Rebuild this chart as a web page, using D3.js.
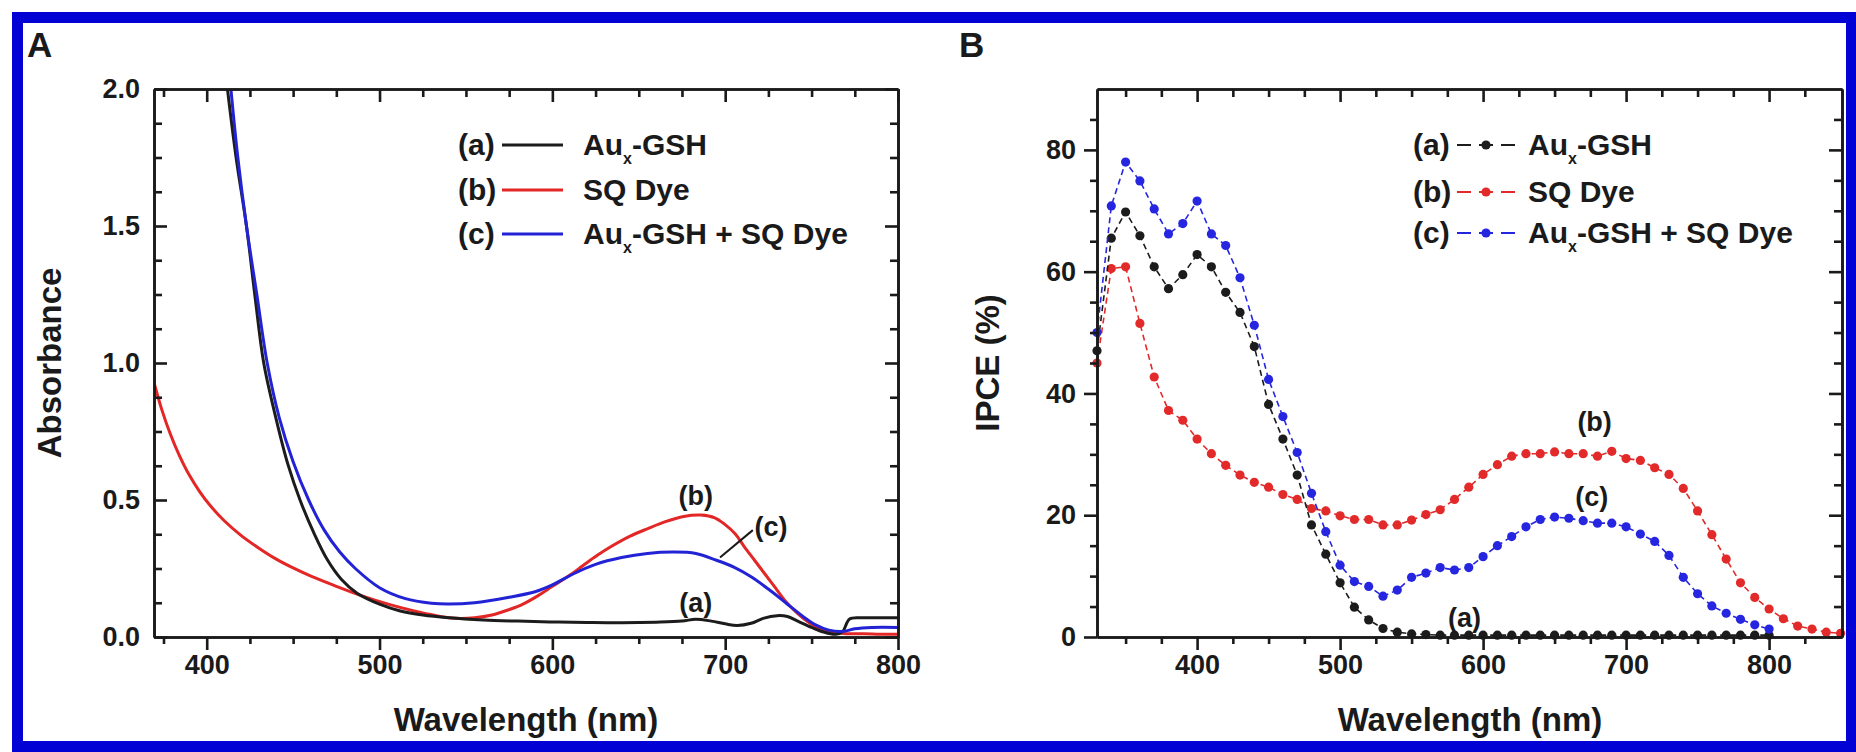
<!DOCTYPE html>
<html>
<head>
<meta charset="utf-8">
<script src="https://cdn.jsdelivr.net/npm/d3@7"></script>
<style>
  body { margin: 0; background: #fff; }
  svg text { font-family: "Liberation Sans", Arial, sans-serif; font-weight: bold; fill: #1a1a1a; }
</style>
</head>
<body>
<svg id="chart" width="1856" height="752"></svg>
<script>
// ---- panel A : absorbance spectra ----
var wlA_a = [412, 417, 423, 428, 433, 440, 447, 454, 462, 470, 478, 487, 500, 512, 525, 540, 560, 580, 600, 620, 640, 660, 675, 683, 692, 700, 707, 715, 722, 730, 736, 742, 750, 757, 764, 768, 772, 780, 790, 800]
var absA_a = [2.0, 1.75, 1.5, 1.24, 1.0, 0.80, 0.63, 0.50, 0.38, 0.28, 0.21, 0.16, 0.12, 0.095, 0.08, 0.07, 0.062, 0.058, 0.055, 0.053, 0.052, 0.054, 0.058, 0.065, 0.058, 0.048, 0.042, 0.05, 0.068, 0.078, 0.075, 0.058, 0.035, 0.018, 0.01, 0.02, 0.066, 0.07, 0.07, 0.07]

var wlA_b = [369, 374, 379, 384, 390, 396, 402, 410, 420, 430, 440, 450, 461, 475, 489, 506, 520, 531, 544, 555, 565, 575, 583, 592, 600, 610, 618, 626, 634, 645, 655, 665, 676, 686, 694, 700, 706, 711, 717, 723, 729, 735, 742, 749, 755, 762, 770, 780, 790, 800]
var absA_b = [0.94, 0.83, 0.74, 0.665, 0.59, 0.53, 0.48, 0.425, 0.37, 0.325, 0.285, 0.252, 0.22, 0.185, 0.152, 0.118, 0.095, 0.08, 0.068, 0.07, 0.08, 0.10, 0.12, 0.152, 0.185, 0.225, 0.262, 0.298, 0.33, 0.368, 0.395, 0.42, 0.44, 0.445, 0.435, 0.41, 0.375, 0.33, 0.28, 0.23, 0.18, 0.13, 0.085, 0.05, 0.03, 0.018, 0.012, 0.012, 0.01, 0.01]

var wlA_c = [414, 418, 423, 429, 435, 442, 450, 459, 468, 477, 486, 500, 515, 530, 540, 555, 575, 590, 600, 612, 625, 640, 655, 670, 683, 695, 705, 715, 725, 735, 745, 752, 760, 768, 775, 785, 800]
var absA_c = [2.0, 1.75, 1.5, 1.25, 1.0, 0.80, 0.64, 0.50, 0.39, 0.31, 0.25, 0.18, 0.14, 0.123, 0.12, 0.125, 0.145, 0.165, 0.19, 0.23, 0.265, 0.29, 0.305, 0.31, 0.305, 0.28, 0.255, 0.22, 0.175, 0.125, 0.075, 0.045, 0.025, 0.02, 0.03, 0.035, 0.035]

// ---- panel B : IPCE ----
var wlB = [330, 340, 350, 360, 370, 380, 390, 400, 410, 420, 430, 440, 450, 460, 470, 480, 490, 500, 510, 520, 530, 540, 550, 560, 570, 580, 590, 600, 610, 620, 630, 640, 650, 660, 670, 680, 690, 700, 710, 720, 730, 740, 750, 760, 770, 780, 790, 800, 810, 820, 830, 840, 850]
var ipce_a = [47, 65.5, 69.8, 65.9, 60.8, 57.2, 59.5, 62.8, 60.8, 56.6, 53.3, 47.7, 38.2, 32.5, 26.6, 18.4, 13.6, 8.9, 4.9, 2.8, 1.4, 0.8, 0.5, 0.4, 0.3, 0.3, 0.3, 0.3, 0.3, 0.3, 0.3, 0.3, 0.3, 0.3, 0.3, 0.3, 0.3, 0.3, 0.3, 0.3, 0.3, 0.3, 0.3, 0.3, 0.3, 0.3, 0.3, 0.3]
var ipce_b = [45, 60.5, 60.8, 51.5, 42.7, 37.2, 35.6, 32.5, 30.1, 28.2, 26.6, 25.4, 24.6, 23.4, 22.6, 21.1, 20.7, 19.9, 19.3, 19.3, 18.4, 18.4, 19.2, 20.1, 20.9, 22.6, 24.6, 26.7, 28.3, 29.7, 30.1, 30.1, 30.4, 30.1, 30.1, 29.7, 30.5, 29.3, 29.0, 27.8, 26.7, 24.4, 20.7, 16.8, 12.8, 8.9, 6.5, 4.6, 3.0, 1.8, 1.3, 0.8, 0.6]
var ipce_c = [50, 70.8, 78, 74.9, 70.3, 66.2, 67.9, 71.6, 66.2, 64.3, 59, 51.2, 42.3, 36.2, 30.3, 23.6, 17.3, 11.8, 9.1, 8.3, 6.7, 7.7, 9.8, 10.5, 11.4, 11.0, 11.4, 13.2, 15.0, 16.5, 18.1, 19.3, 19.7, 19.5, 19.1, 18.7, 18.7, 18.1, 16.9, 15.7, 13.4, 9.8, 7.1, 5.1, 3.9, 2.9, 2.0, 1.3]

// ticks
var xMajA = [400, 500, 600, 700, 800]
var xMinA = [375, 425, 450, 475, 525, 550, 575, 625, 650, 675, 725, 750, 775]
var yMajA = [0, 0.5, 1.0, 1.5, 2.0]
var yMinA = [0.125, 0.25, 0.375, 0.625, 0.75, 0.875, 1.125, 1.25, 1.375, 1.625, 1.75, 1.875]
var xMajB = [400, 500, 600, 700, 800]
var xMinB = [350, 375, 425, 450, 475, 525, 550, 575, 625, 650, 675, 725, 750, 775, 825]
var yMajB = [0, 20, 40, 60, 80]
var yMinB = [5, 10, 15, 25, 30, 35, 45, 50, 55, 65, 70, 75, 85]

var seriesNames = ["(a)", "(b)", "(c)"]
var seriesLabels = [["Au", "x", "-GSH"], ["SQ Dye", "", ""], ["Au", "x", "-GSH + SQ Dye"]]
var colorsA = ["#1c1c1c", "#e32626", "#2323d6"]
var colorsB = ["#1c1c1c", "#e32a2a", "#2626e0"]

var svg = d3.select("#chart")
svg.append("rect").attr("width", 1856).attr("height", 752).attr("fill", "#fff")
svg.append("rect")
   .attr("x", 17.5).attr("y", 17.5).attr("width", 1834).attr("height", 729)
   .attr("fill", "none").attr("stroke", "#0202d4").attr("stroke-width", 11)

var H = 548

function drawAxes(g, x, y, W, xMaj, xMin, yMaj, yMin, yFmt, leftOut) {
  var ax = []
  ax.push(g.append("g").attr("transform", "translate(0," + H + ")")
    .call(d3.axisBottom(x).tickValues(xMaj).tickSizeInner(13).tickSizeOuter(0).tickPadding(5).tickFormat(d3.format("d"))))
  ax.push(g.append("g").attr("transform", "translate(0," + H + ")")
    .call(d3.axisBottom(x).tickValues(xMin).tickSizeInner(7).tickSizeOuter(0).tickFormat("")))
  ax.push(g.append("g").call(d3.axisTop(x).tickValues(xMaj).tickSizeInner(-13).tickSizeOuter(0).tickFormat("")))
  ax.push(g.append("g").call(d3.axisTop(x).tickValues(xMin).tickSizeInner(-8).tickSizeOuter(0).tickFormat("")))
  ax.push(g.append("g")
    .call(d3.axisLeft(y).tickValues(yMaj).tickSizeInner(leftOut ? 13 : -13).tickSizeOuter(0).tickPadding(leftOut ? 8 : 14).tickFormat(yFmt)))
  ax.push(g.append("g")
    .call(d3.axisLeft(y).tickValues(yMin).tickSizeInner(leftOut ? 7 : -8).tickSizeOuter(0).tickFormat("")))
  ax.push(g.append("g").attr("transform", "translate(" + W + ",0)")
    .call(d3.axisRight(y).tickValues(yMaj).tickSizeInner(-13).tickSizeOuter(0).tickFormat("")))
  ax.push(g.append("g").attr("transform", "translate(" + W + ",0)")
    .call(d3.axisRight(y).tickValues(yMin).tickSizeInner(-8).tickSizeOuter(0).tickFormat("")))
  ax.forEach(function(a) {
    a.selectAll(".domain").attr("stroke", "#1a1a1a").attr("stroke-width", 2.6)
    a.selectAll(".tick line").attr("stroke", "#1a1a1a").attr("stroke-width", 2.6)
    a.selectAll(".tick text").attr("font-size", 27).attr("fill", "#1a1a1a")
      .style("font-family", "'Liberation Sans', Arial, sans-serif").style("font-weight", "bold")
  })
}

function legendLabel(t, parts) {
  t.append("tspan").text(parts[0])
  if (parts[1]) {
    t.append("tspan").attr("font-size", 16).attr("dy", 9).text(parts[1])
    t.append("tspan").attr("dy", -9).text(parts[2])
  }
}

// ================= panel A =================
var WA = 744
var gA = svg.append("g").attr("transform", "translate(154,89)")
var xA = d3.scaleLinear().domain([369.5, 800]).range([0, WA])
var yA = d3.scaleLinear().domain([0, 2]).range([H, 0])

gA.append("clipPath").attr("id", "clipA").append("rect").attr("width", WA).attr("height", H)

var lineA = d3.line().x(function(d) { return xA(d[0]) }).y(function(d) { return yA(d[1]) }).curve(d3.curveCatmullRom)
var dataA = [d3.zip(wlA_a, absA_a), d3.zip(wlA_b, absA_b), d3.zip(wlA_c, absA_c)]
var drawOrder = [1, 0, 2]
drawOrder.forEach(function(i) {
  gA.append("path").datum(dataA[i]).attr("clip-path", "url(#clipA)")
    .attr("d", lineA).attr("fill", "none").attr("stroke", colorsA[i]).attr("stroke-width", 3)
})

drawAxes(gA, xA, yA, WA, xMajA, xMinA, yMajA, yMinA, d3.format(".1f"), false)

// curve annotations
gA.append("text").attr("x", xA(683)).attr("y", yA(0.48)).attr("text-anchor", "middle").attr("font-size", 27).text("(b)")
gA.append("text").attr("x", xA(717)).attr("y", yA(0.37)).attr("font-size", 27).text("(c)")
gA.append("text").attr("x", xA(683)).attr("y", yA(0.092)).attr("text-anchor", "middle").attr("font-size", 27).text("(a)")
gA.append("line").attr("x1", xA(716)).attr("y1", yA(0.39)).attr("x2", xA(697)).attr("y2", yA(0.29))
  .attr("stroke", "#1a1a1a").attr("stroke-width", 2)

// legend A
var legY = [145, 190, 234]
seriesNames.forEach(function(n, i) {
  svg.append("text").attr("x", 458).attr("y", legY[i] + 10).attr("font-size", 30).text(n)
  svg.append("line").attr("x1", 502).attr("x2", 563).attr("y1", legY[i]).attr("y2", legY[i])
    .attr("stroke", colorsA[i]).attr("stroke-width", 3)
  legendLabel(svg.append("text").attr("x", 583).attr("y", legY[i] + 10).attr("font-size", 30), seriesLabels[i])
})

svg.append("text").attr("transform", "translate(61,363) rotate(-90)").attr("text-anchor", "middle")
  .attr("font-size", 33).text("Absorbance")
svg.append("text").attr("x", 526).attr("y", 731).attr("text-anchor", "middle").attr("font-size", 33).text("Wavelength (nm)")
svg.append("text").attr("x", 27).attr("y", 57).attr("font-size", 35).text("A")

// ================= panel B =================
var WB = 745
var gB = svg.append("g").attr("transform", "translate(1097,89)")
var xB = d3.scaleLinear().domain([330, 851]).range([0, WB])
var yB = d3.scaleLinear().domain([0, 90]).range([H, 0])

var lineB = d3.line().x(function(d) { return xB(d[0]) }).y(function(d) { return yB(d[1]) })
var dataB = [d3.zip(wlB.slice(0, ipce_a.length), ipce_a), d3.zip(wlB, ipce_b), d3.zip(wlB.slice(0, ipce_c.length), ipce_c)]
drawOrder.forEach(function(i) {
  gB.append("path").datum(dataB[i]).attr("d", lineB).attr("fill", "none")
    .attr("stroke", colorsB[i]).attr("stroke-width", 1.6).attr("stroke-dasharray", "6,4")
  gB.selectAll(".pt" + i).data(dataB[i]).enter().append("circle")
    .attr("cx", function(d) { return xB(d[0]) })
    .attr("cy", function(d) { return yB(d[1]) })
    .attr("r", 4.6)
    .attr("fill", colorsB[i])
})

drawAxes(gB, xB, yB, WB, xMajB, xMinB, yMajB, yMinB, d3.format("d"), true)

gB.append("text").attr("x", xB(678)).attr("y", yB(33.8)).attr("text-anchor", "middle").attr("font-size", 27).text("(b)")
gB.append("text").attr("x", xB(676)).attr("y", yB(21.5)).attr("text-anchor", "middle").attr("font-size", 27).text("(c)")
gB.append("text").attr("x", xB(587)).attr("y", yB(1.6)).attr("text-anchor", "middle").attr("font-size", 27).text("(a)")

// legend B
var legYB = [145, 192, 233]
seriesNames.forEach(function(n, i) {
  svg.append("text").attr("x", 1413).attr("y", legYB[i] + 10).attr("font-size", 30).text(n)
  svg.append("line").attr("x1", 1457).attr("x2", 1517).attr("y1", legYB[i]).attr("y2", legYB[i])
    .attr("stroke", colorsB[i]).attr("stroke-width", 2).attr("stroke-dasharray", "14,8")
  svg.append("circle").attr("cx", 1486).attr("cy", legYB[i]).attr("r", 4.6).attr("fill", colorsB[i])
  legendLabel(svg.append("text").attr("x", 1528).attr("y", legYB[i] + 10).attr("font-size", 30), seriesLabels[i])
})

svg.append("text").attr("transform", "translate(999,363) rotate(-90)").attr("text-anchor", "middle")
  .attr("font-size", 33).text("IPCE (%)")
svg.append("text").attr("x", 1470).attr("y", 731).attr("text-anchor", "middle").attr("font-size", 33).text("Wavelength (nm)")
svg.append("text").attr("x", 959).attr("y", 57).attr("font-size", 35).text("B")
</script>
</body>
</html>
